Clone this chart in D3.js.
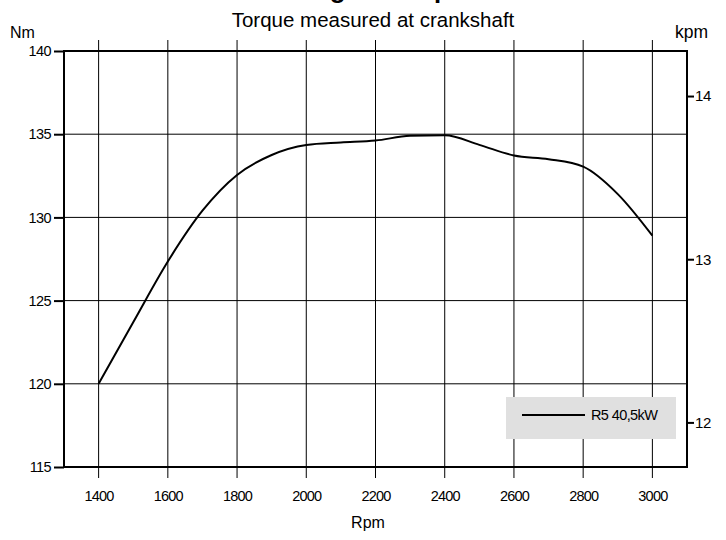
<!DOCTYPE html>
<html>
<head>
<meta charset="utf-8">
<script src="https://cdn.jsdelivr.net/npm/d3@7"></script>
<style>
  html, body { margin: 0; padding: 0; background: #fff; }
  svg { display: block; font-family: "Liberation Sans", Arial, sans-serif; }
</style>
</head>
<body>
<svg id="chart" width="726" height="540"></svg>
<script>
// ---- data ----
const rpm = [1400, 1500, 1600, 1700, 1800, 1900, 2000, 2100, 2200, 2300, 2400, 2500, 2600, 2700, 2800, 2900, 3000];
const torqueNm = [120.0, 123.7, 127.35, 130.4, 132.55, 133.75, 134.35, 134.5, 134.62, 134.9, 134.93, 134.36, 133.72, 133.5, 133.05, 131.4, 128.9];
const xTicks = [1400, 1600, 1800, 2000, 2200, 2400, 2600, 2800, 3000];
const yTicksNm = [115, 120, 125, 130, 135, 140];
const yTicksKpm = [12, 13, 14];
const seriesName = "R5 40,5kW";
const titleText = "Engine torque";
const subtitleText = "Torque measured at crankshaft";
const xLabel = "Rpm";
const yLabelLeft = "Nm";
const yLabelRight = "kpm";
const NM_PER_KPM = 9.80665;

// ---- layout ----
const svg = d3.select("#chart");
const m = { left: 64, right: 687, top: 51, bottom: 467 };

const x = d3.scaleLinear().domain([1300, 3100]).range([m.left, m.right]);
const y = d3.scaleLinear().domain([115, 140]).range([m.bottom, m.top]);
const yK = d3.scaleLinear().domain([115 / NM_PER_KPM, 140 / NM_PER_KPM]).range([m.bottom, m.top]);

// title (mostly above the canvas, as in the reference)
svg.append("text")
  .attr("x", 384).attr("y", -2)
  .attr("text-anchor", "middle")
  .attr("font-size", 26).attr("font-weight", "bold")
  .text(titleText);

svg.append("text")
  .attr("x", 373).attr("y", 27)
  .attr("text-anchor", "middle")
  .attr("font-size", 20.5)
  .text(subtitleText);

svg.append("text").attr("x", 10).attr("y", 38).attr("font-size", 16).text(yLabelLeft);
svg.append("text").attr("x", 675).attr("y", 38).attr("font-size", 17.5).text(yLabelRight);
svg.append("text").attr("x", 368).attr("y", 528).attr("text-anchor", "middle").attr("font-size", 16).text(xLabel);

// horizontal grid
svg.append("g").selectAll("line").data(yTicksNm).join("line")
  .attr("x1", m.left).attr("x2", m.right)
  .attr("y1", d => y(d)).attr("y2", d => y(d))
  .attr("stroke", "#000").attr("stroke-width", 1);

// vertical grid, extending beyond the frame
svg.append("g").selectAll("line").data(xTicks).join("line")
  .attr("x1", d => x(d)).attr("x2", d => x(d))
  .attr("y1", m.top - 11).attr("y2", m.bottom + 11)
  .attr("stroke", "#000").attr("stroke-width", 1);

// left axis
const leftAxis = d3.axisLeft(y).tickValues(yTicksNm).tickSize(10).tickPadding(3).tickFormat(d3.format("d"));
const gL = svg.append("g").attr("transform", `translate(${m.left},0)`).call(leftAxis);
gL.select(".domain").remove();
gL.selectAll(".tick line").attr("stroke-width", 2);
gL.selectAll("text").attr("font-size", 14.5).attr("letter-spacing", -0.6)
  .attr("font-family", "Liberation Sans, Arial, sans-serif").attr("fill", "#000");

// right axis (kpm)
const rightAxis = d3.axisRight(yK).tickValues(yTicksKpm).tickSize(7).tickPadding(1).tickFormat(d3.format("d"));
const gR = svg.append("g").attr("transform", `translate(${m.right},0)`).call(rightAxis);
gR.select(".domain").remove();
gR.selectAll(".tick line").attr("stroke-width", 2);
gR.selectAll("text").attr("font-size", 15).attr("letter-spacing", -0.4)
  .attr("font-family", "Liberation Sans, Arial, sans-serif").attr("fill", "#000");

// bottom axis labels
const bottomAxis = d3.axisBottom(x).tickValues(xTicks).tickSize(0).tickPadding(24).tickFormat(d3.format("d"));
const gB = svg.append("g").attr("transform", `translate(0,${m.bottom})`).call(bottomAxis);
gB.select(".domain").remove();
gB.selectAll("text").attr("font-size", 14.5).attr("letter-spacing", -0.8)
  .attr("font-family", "Liberation Sans, Arial, sans-serif").attr("fill", "#000");

// frame
svg.append("rect")
  .attr("x", m.left).attr("y", m.top)
  .attr("width", m.right - m.left).attr("height", m.bottom - m.top)
  .attr("fill", "none").attr("stroke", "#000").attr("stroke-width", 2);

// curve
const line = d3.line().x((d, i) => x(rpm[i])).y(d => y(d)).curve(d3.curveMonotoneX);
svg.append("path").datum(torqueNm)
  .attr("d", line)
  .attr("fill", "none").attr("stroke", "#000").attr("stroke-width", 2);

// legend
const lg = svg.append("g");
lg.append("rect").attr("x", 506).attr("y", 397).attr("width", 170).attr("height", 42).attr("fill", "#e0e0e0");
lg.append("line").attr("x1", 522).attr("x2", 585).attr("y1", 415).attr("y2", 415).attr("stroke", "#000").attr("stroke-width", 2);
lg.append("text").attr("x", 591).attr("y", 420).attr("font-size", 14.5).attr("letter-spacing", -0.6).text(seriesName);
</script>
</body>
</html>
